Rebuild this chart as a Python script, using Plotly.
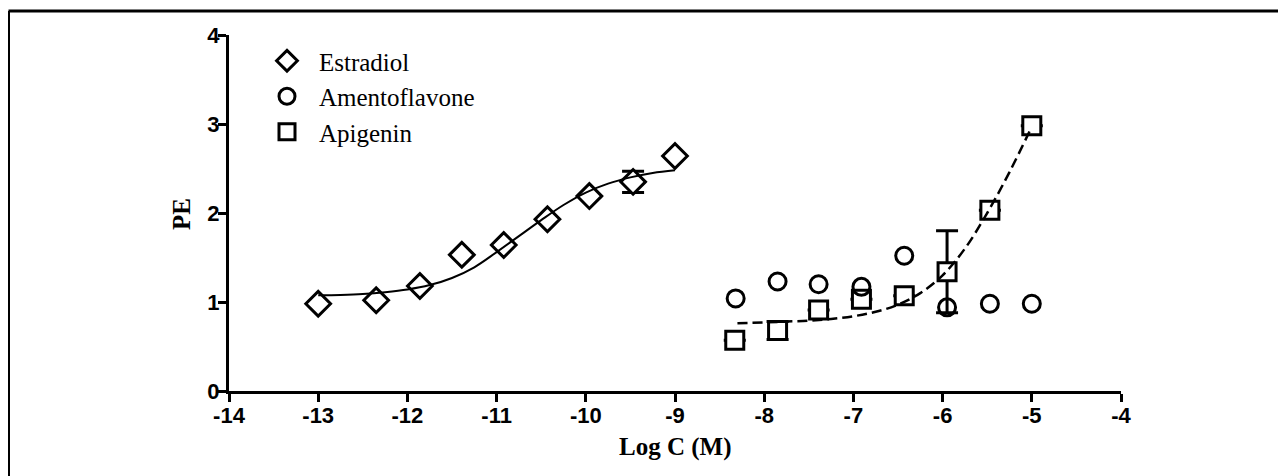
import plotly.graph_objects as go

# ---- data ----
estradiol_x = [-13.0, -12.35, -11.86, -11.39, -10.92, -10.43, -9.96, -9.47, -9.0]
estradiol_y = [0.98, 1.02, 1.18, 1.53, 1.64, 1.93, 2.19, 2.35, 2.64]
estradiol_err = [0, 0, 0, 0, 0, 0, 0, 0.12, 0]

amento_x = [-8.32, -7.85, -7.39, -6.91, -6.43, -5.95, -5.47, -5.0]
amento_y = [1.04, 1.23, 1.20, 1.17, 1.52, 0.94, 0.98, 0.98]

apigenin_x = [-8.33, -7.85, -7.39, -6.91, -6.43, -5.95, -5.47, -5.0]
apigenin_y = [0.57, 0.68, 0.91, 1.03, 1.07, 1.34, 2.03, 2.98]
apigenin_err = [0, 0.10, 0, 0, 0, 0.46, 0, 0]

# fitted curves
estradiol_fit_x = [-13, -12.75, -12.5, -12.25, -12, -11.75, -11.5, -11.25, -11,
                   -10.75, -10.5, -10.25, -10, -9.75, -9.5, -9.25, -9]
estradiol_fit_y = [1.075, 1.08, 1.09, 1.11, 1.14, 1.19, 1.27, 1.39, 1.56,
                   1.74, 1.92, 2.09, 2.23, 2.33, 2.40, 2.45, 2.48]

apigenin_fit_x = [-8.3, -8, -7.75, -7.5, -7.25, -7, -6.75, -6.5, -6.25, -6,
                  -5.75, -5.5, -5.25, -5]
apigenin_fit_y = [0.76, 0.77, 0.78, 0.79, 0.81, 0.84, 0.89, 0.97, 1.10, 1.30,
                  1.60, 2.00, 2.46, 2.97]

x_ticks = [-14, -13, -12, -11, -10, -9, -8, -7, -6, -5, -4]
y_ticks = [0, 1, 2, 3, 4]

SERIF = "Liberation Serif, Times New Roman, serif"
SANS = "Liberation Sans, Arial, sans-serif"

fig = go.Figure()

fig.add_trace(go.Scatter(
    x=estradiol_x, y=estradiol_y, mode="markers", name="Estradiol",
    legendrank=1,
    marker=dict(symbol="diamond", size=19, color="white",
                line=dict(color="black", width=3)),
    error_y=dict(type="data", array=estradiol_err, visible=True,
                 color="black", thickness=3, width=11),
))
fig.add_trace(go.Scatter(
    x=estradiol_fit_x, y=estradiol_fit_y, mode="lines", showlegend=False,
    line=dict(color="black", width=2, shape="spline"),
))
fig.add_trace(go.Scatter(
    x=apigenin_x, y=apigenin_y, mode="markers", name="Apigenin",
    legendrank=3,
    marker=dict(symbol="square", size=18, color="white",
                line=dict(color="black", width=3)),
    error_y=dict(type="data", array=apigenin_err, visible=True,
                 color="black", thickness=3, width=11),
))
fig.add_trace(go.Scatter(
    x=amento_x, y=amento_y, mode="markers", name="Amentoflavone",
    legendrank=2,
    marker=dict(symbol="circle-open", size=17, color="black",
                line=dict(color="black", width=3)),
))
fig.add_trace(go.Scatter(
    x=apigenin_fit_x, y=apigenin_fit_y, mode="lines", showlegend=False,
    line=dict(color="black", width=2.5, dash="10px,5px", shape="spline"),
))

# page offset of the figure (body margin) and page-pixel geometry
OFF = 8
W, H = 1278, 468
PL, PR, PT, PB = 229, 1121, 35, 391   # plot area edges in page pixels
L, T = PL - OFF, PT - OFF
R = W - (PR - OFF)
B = H - (PB - OFF)
pw, ph = PR - PL, PB - PT

def px(xp):
    return (xp - PL) / pw

def py(yp):
    return (PB - yp) / ph

fig.update_layout(
    width=W, height=H,
    margin=dict(l=L, r=R, t=T, b=B, pad=0),
    paper_bgcolor="white", plot_bgcolor="white",
    showlegend=True,
    legend=dict(
        x=px(255), y=py(38), xanchor="left", yanchor="top",
        bgcolor="rgba(0,0,0,0)", borderwidth=0,
        font=dict(family=SERIF, size=25, color="black"),
        itemwidth=54, tracegroupgap=0,
    ),
    xaxis=dict(
        range=[-14, -4], tickvals=x_ticks, ticktext=[str(v) for v in x_ticks],
        showgrid=False, zeroline=False, showline=True, linecolor="black",
        linewidth=3, ticks="outside", ticklen=8, tickwidth=3, tickcolor="black",
        tickfont=dict(family=SANS, size=22, color="black", weight="bold"),
        ticklabelstandoff=-5,
        fixedrange=True,
    ),
    yaxis=dict(
        range=[0, 4], tickvals=y_ticks, ticktext=[str(v) for v in y_ticks],
        showgrid=False, zeroline=False, showline=True, linecolor="black",
        linewidth=3, ticks="outside", ticklen=8, tickwidth=3, tickcolor="black",
        tickfont=dict(family=SANS, size=22, color="black", weight="bold"),
        ticklabelstandoff=-6,
        fixedrange=True,
    ),
    annotations=[
        dict(text="<b>Log C (M)</b>", xref="paper", yref="paper",
             x=0.5, y=py(447), xanchor="center", yanchor="middle",
             showarrow=False, font=dict(family=SERIF, size=25, color="black")),
        dict(text="<b>PE</b>", xref="paper", yref="paper",
             x=px(181), y=py(214), xanchor="center", yanchor="middle",
             textangle=-90, showarrow=False,
             font=dict(family=SERIF, size=25, color="black")),
    ],
    shapes=[
        dict(type="line", xref="paper", yref="paper",
             x0=px(8.5), x1=px(1300), y0=py(11), y1=py(11),
             line=dict(color="black", width=3)),
        dict(type="line", xref="paper", yref="paper",
             x0=px(8.5), x1=px(8.5), y0=py(11), y1=py(490),
             line=dict(color="black", width=3)),
    ],
)

fig.write_html("out.html")
